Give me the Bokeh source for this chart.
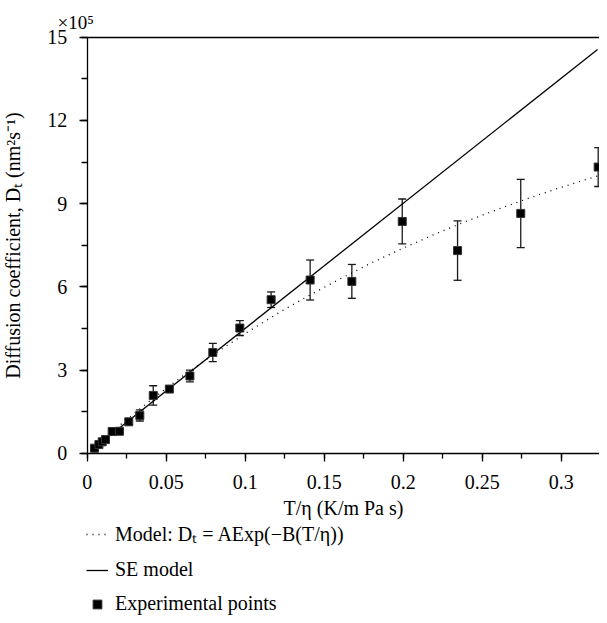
from bokeh.plotting import figure
from bokeh.models import (Range1d, SingleIntervalTicker, NumeralTickFormatter, Whisker,
                          ColumnDataSource, Legend, LegendItem, Label, TeeHead,
                          LinearAxis, FixedTicker)
from bokeh.embed import file_html
from bokeh.resources import INLINE

# ---- data ----
t_eta = [0.0046, 0.0074, 0.0095, 0.0116, 0.0158, 0.0204, 0.0263, 0.0333, 0.0418, 0.052,
         0.065, 0.0795, 0.0966, 0.1164, 0.1411, 0.1675, 0.1994, 0.2344, 0.2744, 0.3234]
d_exp = [0.19, 0.32, 0.42, 0.50, 0.79, 0.80, 1.14, 1.37, 2.09, 2.32,
         2.79, 3.64, 4.52, 5.54, 6.25, 6.20, 8.36, 7.31, 8.65, 10.32]
d_err = [0.03, 0.03, 0.03, 0.03, 0.05, 0.05, 0.10, 0.20, 0.35, 0.08,
         0.21, 0.33, 0.27, 0.28, 0.72, 0.61, 0.81, 1.07, 1.23, 0.70]

se_x = [0.004, 0.323]
se_y = [0.18, 14.56]

model_x = [0.004, 0.02, 0.04, 0.06, 0.08, 0.10, 0.12, 0.14, 0.16, 0.18,
           0.20, 0.22, 0.24, 0.26, 0.28, 0.30, 0.323]
model_y = [0.20, 0.99, 1.91, 2.77, 3.57, 4.32, 5.03, 5.68, 6.29, 6.87,
           7.40, 7.90, 8.37, 8.80, 9.21, 9.59, 10.00]

legend_labels = ["Model: Dₜ = AExp(−B(T/η))", "SE model", "Experimental points"]
x_title = "T/η (K/m Pa s)"
y_title = "Diffusion coefficient, Dₜ (nm²s⁻¹)"
scale_note = "×10⁵"

# axis extents of the plotted area
X_MIN, Y_MIN, Y_MAX = 0, 0, 15

# the drawing area covers the whole canvas; axes sit at x=0 / y=0
W, H = 599, 615
PX_X = 1580.0          # pixels per unit of T/eta
PX_Y = 27.75           # pixels per 1e5 of D_T
x_start = -86.7 / PX_X
x_end = x_start + W / PX_X
y_end = Y_MAX + 36.7 / PX_Y
y_start = y_end - H / PX_Y

FONT = "Liberation Serif"

p = figure(width=W, height=H, min_border_left=0, min_border_right=0,
           min_border_top=0, min_border_bottom=0,
           x_range=Range1d(x_start, x_end), y_range=Range1d(y_start, y_end),
           output_backend="svg", toolbar_location=None,
           background_fill_color="white", border_fill_color="white",
           outline_line_color=None)
p.grid.visible = False
p.title.visible = False

src = ColumnDataSource(dict(
    x=t_eta, y=d_exp,
    lower=[v - e for v, e in zip(d_exp, d_err)],
    upper=[v + e for v, e in zip(d_exp, d_err)],
))

r_model = p.line(model_x, model_y, line_color="black", line_width=1.3, line_dash="1 5")
r_se = p.line(se_x, se_y, line_color="black", line_width=1.3)

w = Whisker(base="x", lower="lower", upper="upper", source=src,
            line_color="#1a1a1a", line_width=1.3,
            upper_head=TeeHead(size=8, line_color="#1a1a1a", line_width=1.3),
            lower_head=TeeHead(size=8, line_color="#1a1a1a", line_width=1.3))
p.add_layout(w)

r_pts = p.scatter("x", "y", source=src, marker="square", size=8,
                  fill_color="black", line_color="#333333")

for ax in (p.xaxis[0], p.yaxis[0]):
    ax.axis_line_width = 1.3
    ax.axis_line_color = "black"
    ax.major_tick_line_width = 1.3
    ax.minor_tick_line_width = 1.3
    ax.major_tick_in = 0
    ax.minor_tick_in = 0
    ax.major_tick_out = 8
    ax.major_label_text_font = FONT
    ax.major_label_text_font_size = "20px"
    ax.major_label_text_color = "black"
    ax.axis_label_text_font = FONT
    ax.axis_label_text_font_size = "20px"
    ax.axis_label_text_font_style = "normal"
    ax.axis_label_text_color = "black"

xa = p.xaxis[0]
xa.fixed_location = 0
xa.bounds = (X_MIN, x_end)
xa.ticker = SingleIntervalTicker(interval=0.05, num_minor_ticks=2)
xa.formatter = NumeralTickFormatter(format="0.[00]")
xa.minor_tick_out = 5
xa.major_label_standoff = 14
xa.axis_label = x_title
xa.axis_label_standoff = 4

ya = p.yaxis[0]
ya.fixed_location = 0
ya.bounds = (Y_MIN, Y_MAX)
ya.ticker = SingleIntervalTicker(interval=3, num_minor_ticks=2)
ya.minor_tick_out = 6
ya.major_label_standoff = 12
ya.axis_label = y_title
ya.axis_label_standoff = 21

# top frame line (no ticks, no labels)
top = LinearAxis(fixed_location=Y_MAX, bounds=(X_MIN, x_end), ticker=FixedTicker(ticks=[]),
                 axis_line_width=1.3, axis_line_color="black",
                 major_tick_out=0, major_tick_in=0, minor_tick_out=0, minor_tick_in=0)
p.add_layout(top, "above")

p.add_layout(Label(x=-0.0188, y=Y_MAX + 0.54, text=scale_note, text_font=FONT,
                   text_font_size="19px", text_baseline="alphabetic", text_align="left",
                   text_color="black"))

legend = Legend(items=[LegendItem(label=legend_labels[0], renderers=[r_model]),
                       LegendItem(label=legend_labels[1], renderers=[r_se]),
                       LegendItem(label=legend_labels[2], renderers=[r_pts])],
                location=(86, 0), orientation="vertical", margin=0, padding=0,
                spacing=11, glyph_width=22, glyph_height=22, label_height=22,
                label_standoff=7, label_text_font=FONT, label_text_font_size="20px",
                label_text_color="black", border_line_color=None,
                background_fill_alpha=0)
p.add_layout(legend)

open("out.html", "w").write(file_html(p, INLINE))
